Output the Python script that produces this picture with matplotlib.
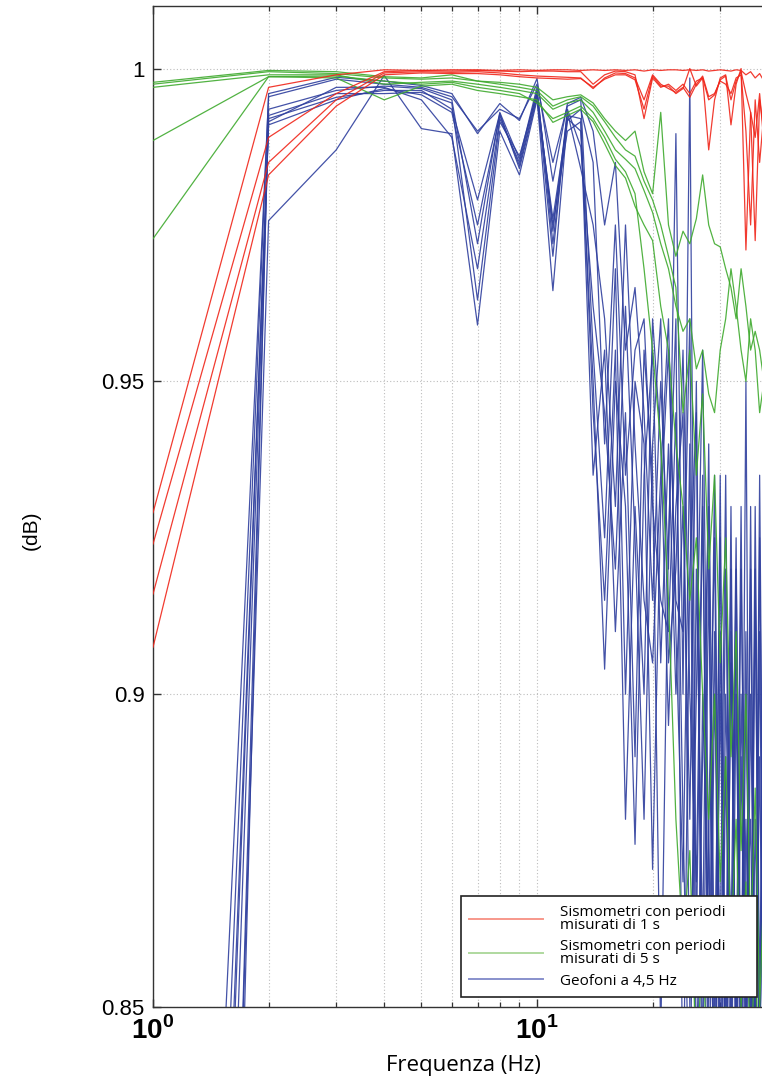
import matplotlib
matplotlib.use("Agg")
import matplotlib.pyplot as plt
from matplotlib.lines import Line2D
from matplotlib.ticker import LogLocator, NullFormatter

plt.rcParams["mathtext.fontset"] = "custom"
plt.rcParams["mathtext.rm"] = "Liberation Sans"
plt.rcParams["mathtext.bf"] = "Liberation Sans:bold"

# frequencies (Hz) of the measured points
freq = [1, 2, 3, 4, 5, 6, 7, 8, 9, 10, 11, 12, 13, 14, 15, 16, 17, 18, 19, 20,
        21, 22, 23, 24, 25, 26, 27, 28, 29, 30, 31, 32, 33, 34, 35, 36, 37, 38, 39]

# sismometri 1 s
red_1 = [0.929, 0.997, 0.9990, 0.9998, 0.9997, 0.9998, 0.9998, 0.9997, 0.9998, 0.9997,
         0.9998, 0.9998, 0.9997, 0.9998, 0.9997, 0.9998, 0.9997, 0.9998, 0.9996, 0.9998,
         0.9997, 0.9998, 0.9998, 0.9997, 0.9998, 0.9997, 0.9998, 0.9996, 0.9997, 0.9998,
         0.9997, 0.9996, 0.9998, 0.9997, 0.9990, 0.9995, 0.9985, 0.9992, 0.9980]
red_2 = [0.924, 0.989, 0.9960, 0.9995, 0.9997, 0.9996, 0.9997, 0.9996, 0.9995, 0.9996,
         0.9996, 0.9995, 0.9995, 0.9975, 0.9990, 0.9996, 0.9995, 0.9990, 0.9920, 0.9985,
         0.9970, 0.9975, 0.9965, 0.9975, 0.9960, 0.9980, 0.9985, 0.9870, 0.9950, 0.9985,
         0.9990, 0.9910, 0.9975, 1.0000, 0.9710, 0.9930, 0.9890, 0.9960, 0.9880]
red_3 = [0.916, 0.985, 0.9950, 0.9993, 0.9995, 0.9994, 0.9995, 0.9993, 0.9990, 0.9988,
         0.9987, 0.9986, 0.9985, 0.9968, 0.9985, 0.9993, 0.9992, 0.9985, 0.9950, 0.9990,
         0.9975, 0.9968, 0.9962, 0.9970, 0.9954, 0.9975, 0.9988, 0.9955, 0.9960, 0.9980,
         0.9975, 0.9960, 0.9985, 0.9990, 0.9900, 0.9750, 0.9950, 0.9850, 0.9930]
red_4 = [0.9075, 0.983, 0.9940, 0.9990, 0.9993, 0.9992, 0.9992, 0.9990, 0.9987, 0.9985,
         0.9984, 0.9983, 0.9984, 0.9970, 0.9983, 0.9990, 0.9990, 0.9982, 0.9935, 0.9988,
         0.9972, 0.9972, 0.9960, 0.9968, 1.0000, 0.9972, 0.9985, 0.9950, 0.9958, 0.9982,
         0.9988, 0.9950, 0.9980, 0.9995, 0.9960, 0.9930, 0.9725, 0.9950, 0.9900]

# sismometri 5 s
green_1 = [0.9978, 0.9997, 0.9995, 0.9987, 0.9985, 0.9990, 0.998, 0.9978, 0.9975, 0.997,
           0.995, 0.9955, 0.9958, 0.9945, 0.992, 0.990, 0.9885, 0.990, 0.9835, 0.980,
           0.993, 0.975, 0.970, 0.974, 0.972, 0.976, 0.983, 0.975, 0.972, 0.9715,
           0.968, 0.965, 0.960, 0.968, 0.962, 0.955, 0.958, 0.955, 0.950]
green_2 = [0.9970, 0.9990, 0.9990, 0.9975, 0.9978, 0.9980, 0.9975, 0.997, 0.9965, 0.996,
           0.9935, 0.9945, 0.995, 0.993, 0.990, 0.987, 0.9855, 0.984, 0.9805, 0.977,
           0.972, 0.968, 0.962, 0.958, 0.960, 0.952, 0.955, 0.948, 0.945, 0.955,
           0.960, 0.968, 0.962, 0.955, 0.950, 0.960, 0.955, 0.945, 0.950]
green_3 = [0.9885, 0.9987, 0.9985, 0.9950, 0.9972, 0.9975, 0.9965, 0.996, 0.9955, 0.995,
           0.9914, 0.9925, 0.9935, 0.9915, 0.988, 0.9845, 0.9825, 0.978, 0.975, 0.9725,
           0.962, 0.955, 0.940, 0.930, 0.915, 0.925, 0.900, 0.880, 0.900, 0.870,
           0.890, 0.860, 0.880, 0.850, 0.870, 0.840, 0.860, 0.835, 0.850]
green_4 = [0.9728, 0.9987, 0.9988, 0.9980, 0.9975, 0.9978, 0.997, 0.9965, 0.996, 0.9945,
           0.992, 0.993, 0.994, 0.992, 0.989, 0.9855, 0.9835, 0.980, 0.968, 0.955,
           0.940, 0.915, 0.880, 0.860, 0.875, 0.840, 0.860, 0.835, 0.850, 0.830,
           0.850, 0.825, 0.845, 0.830, 0.840, 0.820, 0.845, 0.830, 0.840]
green_5 = [0.9975, 0.9995, 0.9992, 0.9985, 0.9983, 0.9985, 0.998, 0.9975, 0.997, 0.9965,
           0.994, 0.995, 0.9955, 0.994, 0.9915, 0.989, 0.987, 0.986, 0.982, 0.979,
           0.975, 0.970, 0.965, 0.945, 0.955, 0.935, 0.948, 0.920, 0.935, 0.905,
           0.925, 0.890, 0.910, 0.875, 0.900, 0.860, 0.885, 0.850, 0.870]

# geofoni 4,5 Hz
blue_1 = [0.55, 0.996, 0.9986, 0.998, 0.9973, 0.996, 0.9896, 0.9944, 0.9917, 0.9984,
          0.982, 0.9944, 0.9954, 0.990, 0.975, 0.985, 0.955, 0.965, 0.945, 0.915,
          0.950, 0.920, 0.9896, 0.900, 0.9985, 0.860, 0.930, 0.850, 0.910, 0.820,
          0.890, 0.830, 0.900, 0.840, 0.950, 0.830, 0.880, 0.840, 0.900]
blue_2 = [0.50, 0.992, 0.9954, 0.9965, 0.9965, 0.9935, 0.979, 0.9928, 0.984, 0.9954,
          0.9645, 0.992, 0.990, 0.950, 0.904, 0.950, 0.930, 0.876, 0.935, 0.955,
          0.905, 0.940, 0.900, 0.930, 0.880, 0.950, 0.840, 0.920, 0.830, 0.900,
          0.840, 0.930, 0.830, 0.890, 0.840, 0.920, 0.835, 0.910, 0.830]
blue_3 = [0.45, 0.9915, 0.997, 0.997, 0.995, 0.989, 0.968, 0.992, 0.985, 0.9965,
          0.974, 0.993, 0.984, 0.975, 0.960, 0.930, 0.975, 0.940, 0.915, 0.905,
          0.935, 0.960, 0.910, 0.870, 0.940, 0.820, 0.900, 0.860, 0.935, 0.840,
          0.920, 0.850, 0.910, 0.830, 0.880, 0.840, 0.930, 0.850, 0.920]
blue_4 = [0.40, 0.9757, 0.987, 0.9989, 0.9904, 0.9896, 0.959, 0.990, 0.983, 0.995,
          0.976, 0.9917, 0.9935, 0.985, 0.940, 0.975, 0.935, 0.955, 0.960, 0.930,
          0.915, 0.910, 0.945, 0.880, 0.830, 0.920, 0.860, 0.940, 0.850, 0.925,
          0.830, 0.905, 0.850, 0.930, 0.830, 0.900, 0.840, 0.935, 0.850]
blue_5 = [0.35, 0.9925, 0.996, 0.996, 0.9962, 0.9945, 0.963, 0.9915, 0.986, 0.996,
          0.970, 0.9935, 0.9875, 0.962, 0.945, 0.920, 0.962, 0.925, 0.880, 0.940,
          0.960, 0.905, 0.920, 0.955, 0.900, 0.870, 0.935, 0.830, 0.900, 0.860,
          0.935, 0.840, 0.920, 0.850, 0.910, 0.830, 0.920, 0.835, 0.910]
blue_6 = [0.60, 0.9955, 0.9983, 0.9975, 0.997, 0.9955, 0.990, 0.9935, 0.992, 0.9975,
          0.985, 0.994, 0.995, 0.955, 0.925, 0.968, 0.900, 0.950, 0.940, 0.872,
          0.930, 0.955, 0.915, 0.910, 0.960, 0.840, 0.890, 0.930, 0.820, 0.910,
          0.850, 0.920, 0.835, 0.900, 0.845, 0.930, 0.840, 0.890, 0.830]
blue_7 = [0.52, 0.991, 0.995, 0.9968, 0.9958, 0.993, 0.975, 0.9925, 0.9845, 0.9958,
          0.975, 0.990, 0.9915, 0.935, 0.955, 0.910, 0.945, 0.890, 0.955, 0.935,
          0.845, 0.925, 0.960, 0.830, 0.920, 0.945, 0.820, 0.880, 0.925, 0.830,
          0.900, 0.860, 0.925, 0.835, 0.900, 0.850, 0.915, 0.840, 0.900]
blue_8 = [0.30, 0.9935, 0.9965, 0.9972, 0.9968, 0.995, 0.972, 0.993, 0.9855, 0.997,
          0.972, 0.9925, 0.992, 0.945, 0.915, 0.955, 0.880, 0.930, 0.900, 0.960,
          0.940, 0.895, 0.930, 0.945, 0.850, 0.900, 0.955, 0.870, 0.840, 0.935,
          0.820, 0.910, 0.845, 0.920, 0.860, 0.880, 0.830, 0.925, 0.845]

red_lines = [red_1, red_2, red_3, red_4]
green_lines = [green_1, green_2, green_3, green_4, green_5]
blue_lines = [blue_1, blue_2, blue_3, blue_4, blue_5, blue_6, blue_7, blue_8]

legend_labels = ["Sismometri con periodi\nmisurati di 1 s",
                 "Sismometri con periodi\nmisurati di 5 s",
                 "Geofoni a 4,5 Hz"]

yticks = [0.85, 0.9, 0.95, 1.0]
ytick_labels = ["0.85", "0.9", "0.95", "1"]
xticks = [1, 10, 100]
xtick_labels = [r"$\mathbf{10}^{\mathbf{0}}$", r"$\mathbf{10}^{\mathbf{1}}$", ""]

c_red = "#f0261a"
c_green = "#3faa2e"
c_blue = "#2f3f9e"

W, H = 762, 1078
fig = plt.figure(figsize=(W / 100, H / 100), dpi=100)
# axes runs past the right edge of the picture (the original is cropped)
ax = fig.add_axes([153 / W, 1 - 1007 / H, 768 / W, 1001 / H])

for y in blue_lines:
    ax.plot(freq, y, color=c_blue, lw=0.9, alpha=0.9, zorder=2)
for y in green_lines:
    ax.plot(freq, y, color=c_green, lw=0.9, alpha=0.9, zorder=3)
for y in red_lines:
    ax.plot(freq, y, color=c_red, lw=0.9, alpha=0.9, zorder=4)

ax.set_xscale("log")
ax.set_xlim(1, 100)
ax.set_ylim(0.85, 1.01)

ax.xaxis.set_minor_locator(LogLocator(base=10, subs=[2, 3, 4, 5, 6, 7, 8, 9]))
ax.xaxis.set_minor_formatter(NullFormatter())
ax.set_xticks(xticks)
ax.set_xticklabels(xtick_labels)
ax.set_yticks(yticks)
ax.set_yticklabels(ytick_labels)

ax.tick_params(which="both", direction="in", top=True, right=True, color="#333333")
ax.tick_params(which="major", length=6, width=1)
ax.tick_params(which="minor", length=3.5, width=0.9)
ax.tick_params(axis="y", labelsize=16, pad=6)
ax.tick_params(axis="x", labelsize=20, pad=7)
for lab in ax.get_yticklabels():
    lab.set_fontfamily("Liberation Sans")

ax.grid(True, which="major", axis="both", color="#bdbdbd", lw=0.8, ls=(0, (1, 2)))
ax.grid(True, which="minor", axis="x", color="#bdbdbd", lw=0.8, ls=(0, (1, 2)))
ax.set_axisbelow(True)
for s in ax.spines.values():
    s.set_color("#333333")
    s.set_linewidth(1.0)

fig.text(463 / W, 1 - 1066 / H, "Frequenza (Hz)", ha="center", va="center",
         fontsize=16, family="Open Sans")
fig.text(31 / W, 1 - 530 / H, "(dB)", ha="center", va="center", rotation=90,
         fontsize=15, family="Liberation Sans")

handles = [Line2D([], [], color="#f7988b", lw=1.4),
           Line2D([], [], color="#afd99f", lw=1.4),
           Line2D([], [], color="#8891cc", lw=1.4)]
leg = fig.legend(handles, legend_labels, loc="lower left",
                 bbox_to_anchor=(461 / W, 1 - 997 / H, 296 / W, 0.05),
                 bbox_transform=fig.transFigure, mode="expand",
                 prop={"family": "Open Sans", "size": 11},
                 handlelength=4.8, handletextpad=1.1, borderpad=0.55,
                 labelspacing=0.4, fancybox=False, framealpha=1,
                 edgecolor="#222222", borderaxespad=0)
leg.get_frame().set_linewidth(1.2)
for t in leg.get_texts():
    t.set_linespacing(0.85)

fig.savefig("out.png", dpi=100)
